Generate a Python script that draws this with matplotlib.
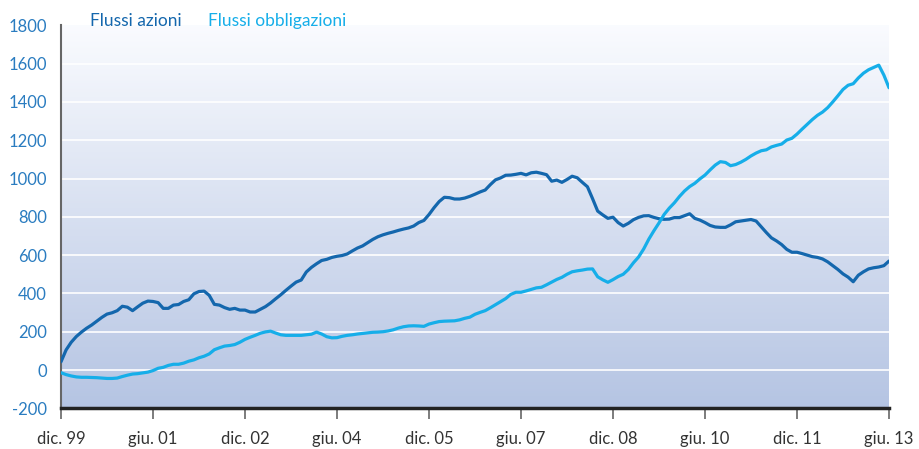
import numpy as np
import matplotlib.pyplot as plt

# monthly values, dic. 1999 -> giu. 2013
azioni = [43, 105, 145, 175, 198, 218, 235, 255, 275, 292,
          299, 310, 333, 328, 310, 330, 349, 360, 358, 352,
          322, 322, 339, 342, 358, 367, 398, 410, 412, 390,
          343, 339, 326, 317, 322, 313, 313, 303, 303, 317,
          331, 350, 372, 393, 416, 438, 459, 470, 512, 536,
          555, 572, 578, 588, 594, 598, 606, 622, 637, 648,
          665, 682, 696, 706, 714, 721, 729, 736, 742, 752,
          770, 781, 812, 848, 880, 902, 900, 893, 893, 898,
          907, 918, 930, 940, 968, 993, 1003, 1017, 1018, 1022,
          1027, 1019, 1030, 1033, 1027, 1020, 986, 992, 980, 995,
          1012, 1004, 980, 957, 895, 830, 810, 792, 798, 770,
          752, 766, 785, 797, 805, 806, 797, 790, 787, 788,
          796, 796, 806, 816, 792, 783, 770, 755, 747, 745,
          745, 758, 774, 778, 782, 786, 778, 748, 718, 690,
          674, 655, 630, 615, 615, 608, 600, 592, 588, 580,
          565, 545, 525, 502, 485, 461, 495, 513, 528, 534,
          538, 545, 569]

obbligazioni = [-14, -24, -31, -36, -38, -38, -39, -40, -42, -44,
                -44, -42, -34, -27, -21, -19, -15, -11, -3, 9,
                14, 24, 30, 30, 36, 46, 53, 64, 72, 84,
                106, 116, 125, 128, 133, 145, 160, 171, 181, 192,
                199, 203, 193, 184, 181, 181, 181, 181, 184, 187,
                198, 188, 174, 168, 169, 176, 181, 184, 188, 191,
                194, 197, 198, 200, 204, 210, 219, 226, 230, 231,
                230, 228, 240, 247, 253, 255, 256, 257, 262, 270,
                276, 291, 301, 310, 325, 341, 357, 373, 395, 406,
                406, 413, 421, 429, 432, 445, 459, 473, 484, 500,
                513, 518, 522, 527, 528, 487, 471, 458, 472, 488,
                500, 525, 560, 590, 632, 683, 727, 768, 812, 845,
                873, 906, 935, 958, 975, 998, 1018, 1045, 1070, 1088,
                1084, 1067, 1073, 1085, 1100, 1118, 1133, 1145, 1150, 1165,
                1173, 1180, 1201, 1210, 1232, 1258, 1283, 1308, 1330, 1347,
                1370, 1400, 1432, 1465, 1487, 1495, 1525, 1550, 1568, 1580,
                1592, 1540, 1474]

xlabels = ["dic. 99", "giu. 01", "dic. 02", "giu. 04", "dic. 05",
           "giu. 07", "dic. 08", "giu. 10", "dic. 11", "giu. 13"]
yticks = [-200, 0, 200, 400, 600, 800, 1000, 1200, 1400, 1600, 1800]

c_az = "#1467ad"
c_ob = "#16aee9"
c_lab = "#2a7cc0"

plt.rcParams['font.family'] = ['Lato', 'DejaVu Sans']

fig = plt.figure(figsize=(9.2, 4.49), dpi=100)
ax = fig.add_axes([0.0663, 0.0906, 0.9, 0.853])

n = len(azioni)
x = np.arange(n)

# gradient background, light at the top
grad = np.linspace(0, 1, 256).reshape(-1, 1, 1)
top = np.array([0.98, 0.985, 0.998])
bot = np.array([0.71, 0.77, 0.89])
img = top + (bot - top) * grad
ax.imshow(img, aspect="auto", extent=[0, n - 1, -200, 1800], origin="upper", zorder=0)
ax.set_xlim(0, n - 1)
ax.set_ylim(-200, 1800)

ax.plot(x, azioni, color=c_az, lw=2.3, zorder=3, solid_capstyle="round")
ax.plot(x, obbligazioni, color=c_ob, lw=2.3, zorder=3, solid_capstyle="round")

ax.set_yticks(yticks)
ax.set_yticklabels([str(v) for v in yticks], color=c_lab, fontsize=12)
ax.tick_params(axis="y", length=0, pad=10)
ax.set_xticks(np.arange(0, n, 18))
ax.set_xticklabels(xlabels, color="#333333", fontsize=12)
ax.tick_params(axis="x", length=8, width=1.2, color="#666666", pad=8)

ax.grid(axis="y", color="white", lw=1.2, zorder=1)
ax.yaxis.get_gridlines()[-1].set_visible(False)
ax.set_axisbelow(True)

for s in ["top", "right"]:
    ax.spines[s].set_visible(False)
ax.spines["left"].set_color("#666666")
ax.spines["left"].set_linewidth(1.5)
ax.spines["bottom"].set_color("#222222")
ax.spines["bottom"].set_linewidth(2.5)

fig.text(90 / 920, 1 - 21 / 449, "Flussi azioni", color=c_az, fontsize=12.5, va="center")
fig.text(208 / 920, 1 - 21 / 449, "Flussi obbligazioni", color=c_ob, fontsize=12.5, va="center")

fig.savefig("out.png", dpi=100)
plt.close()
